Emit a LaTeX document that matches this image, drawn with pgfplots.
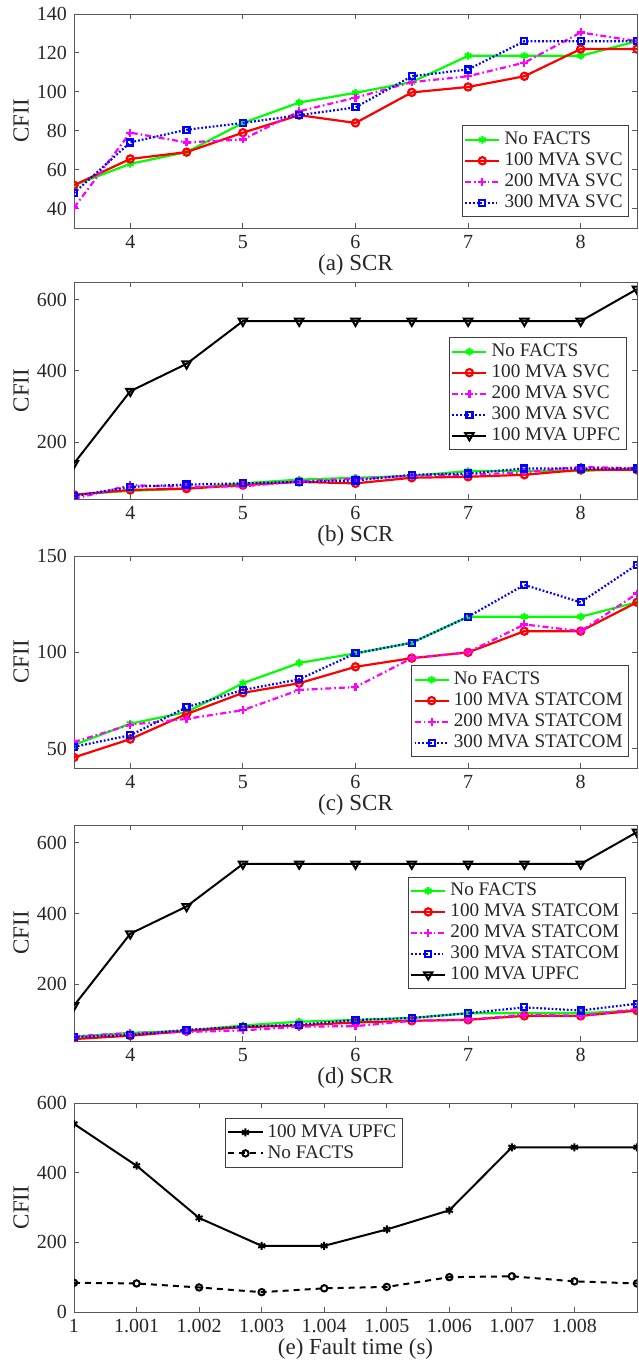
\documentclass[border=0pt]{standalone}
\usepackage{fontspec}
\setmainfont{Liberation Serif}
\usepackage{pgfplots}
\usepackage{pgfplotstable}
\pgfplotsset{compat=1.18}
\definecolor{mgreen}{RGB}{0,255,0}
\definecolor{mred}{RGB}{255,0,0}
\definecolor{mmag}{RGB}{255,0,255}
\definecolor{mblue}{RGB}{0,0,255}

% SVC cases, panels (a) and (b)
\pgfplotstableread{
scr  nof   svc100 svc200 svc300 upfc
3.5  52    52     40.5   48     140
4    63    65.5   79     74     343
4.5  69    69     74     80.5   420
5    84    79     75.5   84     540
5.5  94.5  88     90     88     540
6    99.5  84     97     92     540
6.5  105   99.7   105    108    540
7    118.5 102.5  108    111.5  540
7.5  118.5 108    115    126    540
8    118.5 122    130.5  126    540
8.5  126   122    126    126    630
}\svcdata

% STATCOM cases, panels (c) and (d)
\pgfplotstableread{
scr  nof   st100 st200 st300 upfc
3.5  52    45.5  53.5  51    140
4    63    55    62.5  57    343
4.5  69    68    65.5  71.5  420
5    84    79    70    80.5  540
5.5  94.5  84    80.5  86    540
6    99.5  92.5  82    99.5  540
6.5  105   97    97    105   540
7    118.5 100   100   118.5 540
7.5  118.5 111   114.5 135   540
8    118.5 111   111   126   540
8.5  126   126   130.5 145.5 630
}\statdata

% fault time, panel (e)
\pgfplotstableread{
t      upfc nof
1      540  84
1.001  420  82
1.002  270  70.5
1.003  190  57
1.004  190  68
1.005  237  72
1.006  292  100
1.007  473  102.5
1.008  473  88
1.009  473  82
}\faultdata

\pgfplotsset{
  panel/.style={
    scale only axis, width=281.5pt, anchor=north west,
    tick align=inside, major tick length=2.5pt,
    axis line style={black!65}, tick style={black!65, line width=0.5pt},
    ticklabel style={font=\fontsize{10}{12}\selectfont, text=black!85},
    /pgf/number format/assume math mode=true,
    ylabel=CFII,
    every axis y label/.style={at={(axis description cs:-0.094,0.5)}, rotate=90, anchor=center,
      font=\fontsize{11.5}{13}\selectfont, text=black!85},
    every axis x label/.style={at={(axis description cs:0.5,0)}, yshift=-18.5pt, anchor=center,
      font=\fontsize{11.5}{13}\selectfont, text=black!85},
    clip marker paths=true,
    legend cell align=left,
    legend style={font=\fontsize{9.6}{10}\selectfont, draw=black!75, line width=0.5pt,
      inner sep=1pt, row sep=-1.4pt, text=black!85},
  },
  scrpanel/.style={panel, xmin=3.5, xmax=8.5, xtick={4,5,6,7,8}},
  snof/.style={color=mgreen, line width=1.1pt, mark=asterisk, mark size=1.9pt, mark options={solid}},
  s100/.style={color=mred, line width=1.1pt, mark=o, mark size=1.8pt, mark options={solid}},
  s200/.style={color=mmag, line width=1.1pt, dash pattern=on 3pt off 1.5pt on 0.8pt off 1.5pt,
    mark=+, mark size=2pt, mark options={solid}},
  s300/.style={color=mblue, line width=1.1pt, dash pattern=on 0.9pt off 1pt,
    mark=square, mark size=1.5pt, mark options={solid}},
  supfc/.style={color=black, line width=1pt, mark=triangle, mark size=2.4pt,
    mark options={solid, rotate=180}},
}

\begin{document}
\begin{tikzpicture}

% (a)
\begin{axis}[scrpanel, at={(37pt,-7pt)}, height=107pt,
  ymin=30, ymax=140, ytick={40,60,...,140}, xlabel={(a) SCR},
  legend style={at={(0.986,0.051)}, anchor=south east}]
  \addplot[snof] table[x=scr, y=nof] {\svcdata};
  \addplot[s100] table[x=scr, y=svc100] {\svcdata};
  \addplot[s200] table[x=scr, y=svc200] {\svcdata};
  \addplot[s300] table[x=scr, y=svc300] {\svcdata};
  \legend{No FACTS, 100 MVA SVC, 200 MVA SVC, 300 MVA SVC}
\end{axis}

% (b)
\begin{axis}[scrpanel, at={(37pt,-141pt)}, height=108.5pt,
  ymin=40, ymax=650, ytick={200,400,600}, xlabel={(b) SCR},
  legend style={at={(0.982,0.226)}, anchor=south east}]
  \addplot[snof] table[x=scr, y=nof] {\svcdata};
  \addplot[s100] table[x=scr, y=svc100] {\svcdata};
  \addplot[s200] table[x=scr, y=svc200] {\svcdata};
  \addplot[s300] table[x=scr, y=svc300] {\svcdata};
  \addplot[supfc] table[x=scr, y=upfc] {\svcdata};
  \legend{No FACTS, 100 MVA SVC, 200 MVA SVC, 300 MVA SVC, 100 MVA UPFC}
\end{axis}

% (c)
\begin{axis}[scrpanel, at={(37pt,-278pt)}, height=106pt,
  ymin=40, ymax=150, ytick={50,100,150}, xlabel={(c) SCR},
  legend style={at={(0.986,0.052)}, anchor=south east}]
  \addplot[snof] table[x=scr, y=nof] {\statdata};
  \addplot[s100] table[x=scr, y=st100] {\statdata};
  \addplot[s200] table[x=scr, y=st200] {\statdata};
  \addplot[s300] table[x=scr, y=st300] {\statdata};
  \legend{No FACTS, 100 MVA STATCOM, 200 MVA STATCOM, 300 MVA STATCOM}
\end{axis}

% (d)
\begin{axis}[scrpanel, at={(37pt,-412.5pt)}, height=108pt,
  ymin=40, ymax=650, ytick={200,400,600}, xlabel={(d) SCR},
  legend style={at={(0.98,0.24)}, anchor=south east}]
  \addplot[snof] table[x=scr, y=nof] {\statdata};
  \addplot[s100] table[x=scr, y=st100] {\statdata};
  \addplot[s200] table[x=scr, y=st200] {\statdata};
  \addplot[s300] table[x=scr, y=st300] {\statdata};
  \addplot[supfc] table[x=scr, y=upfc] {\statdata};
  \legend{No FACTS, 100 MVA STATCOM, 200 MVA STATCOM, 300 MVA STATCOM, 100 MVA UPFC}
\end{axis}

% (e)
\begin{axis}[panel, at={(37pt,-551.5pt)}, height=104.5pt,
  xmin=1, xmax=1.009,
  xtick={1,1.001,1.002,1.003,1.004,1.005,1.006,1.007,1.008},
  xticklabels={1,1.001,1.002,1.003,1.004,1.005,1.006,1.007,1.008},
  ymin=0, ymax=600, ytick={0,200,400,600}, xlabel={(e) Fault time (s)},
  legend style={at={(0.268,0.928)}, anchor=north west}]
  \addplot[black, line width=1pt, mark=asterisk, mark size=2pt, mark options={solid}]
    table[x=t, y=upfc] {\faultdata};
  \addplot[black, line width=1pt, dash pattern=on 3pt off 2.5pt, mark=o, mark size=1.6pt,
    mark options={solid}]
    table[x=t, y=nof] {\faultdata};
  \legend{100 MVA UPFC, No FACTS}
\end{axis}

\pgfresetboundingbox
\useasboundingbox (0,0) rectangle (319pt,-683pt);
\end{tikzpicture}
\end{document}
